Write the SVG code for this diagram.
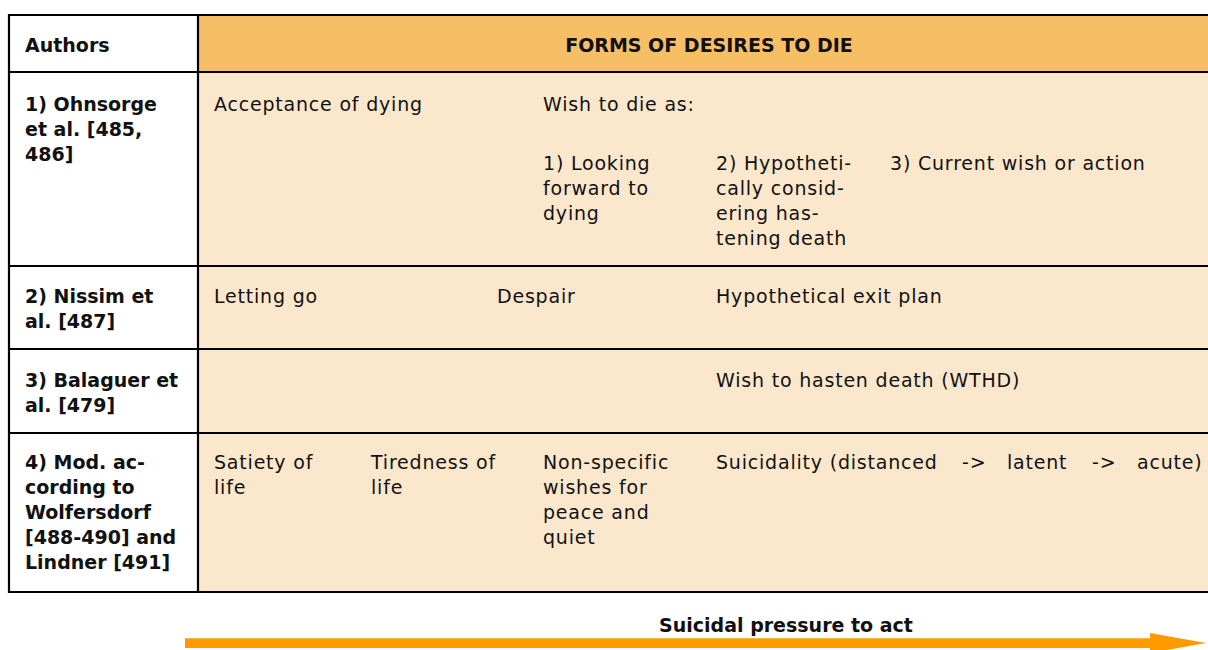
<svg xmlns="http://www.w3.org/2000/svg" width="1208" height="650" viewBox="0 0 1208 650">
  <style>
    .t { font-family: "DejaVu Sans", "Liberation Sans", sans-serif; font-size: 19px; fill: #111; letter-spacing: 0.8px; }
    .b { font-weight: bold; letter-spacing: 0px; }
    .grid { stroke: #000; stroke-width: 2.2; fill: none; }
  </style>
  <defs>
    <marker id="head" markerUnits="userSpaceOnUse" markerWidth="60" markerHeight="24" refX="0" refY="12" orient="auto">
      <path d="M0,2 L56,12 L0,22 Z" fill="#FF9A00"/>
    </marker>
  </defs>

  <rect width="1208" height="650" fill="#fff"/>

  <!-- cell backgrounds -->
  <rect x="198" y="15" width="1010" height="57" fill="#F6BF66"/>
  <rect x="198" y="72" width="1010" height="520" fill="#FBE8CC"/>

  <!-- table grid -->
  <g id="grid" class="grid">
    <line x1="8" y1="15" x2="1208" y2="15"/>
    <line x1="8" y1="72" x2="1208" y2="72"/>
    <line x1="8" y1="266" x2="1208" y2="266"/>
    <line x1="8" y1="349" x2="1208" y2="349"/>
    <line x1="8" y1="433" x2="1208" y2="433"/>
    <line x1="8" y1="592" x2="1208" y2="592"/>
    <line x1="9" y1="14" x2="9" y2="593"/>
    <line x1="198" y1="14" x2="198" y2="593"/>
  </g>

  <!-- header row -->
  <g id="header">
    <text class="t b" x="25" y="52">Authors</text>
    <text class="t b" x="709" y="52" text-anchor="middle">FORMS OF DESIRES TO DIE</text>
  </g>

  <!-- row 1: Ohnsorge -->
  <g id="row1">
    <text class="t b" x="25" y="111">1) Ohnsorge</text>
    <text class="t b" x="25" y="136">et al. [485,</text>
    <text class="t b" x="25" y="161">486]</text>
    <text class="t" x="214" y="111">Acceptance of dying</text>
    <text class="t" x="543" y="111">Wish to die as:</text>
    <text class="t" x="543" y="170">1) Looking</text>
    <text class="t" x="543" y="195">forward to</text>
    <text class="t" x="543" y="220">dying</text>
    <text class="t" x="716" y="170">2) Hypotheti-</text>
    <text class="t" x="716" y="195">cally consid-</text>
    <text class="t" x="716" y="220">ering has-</text>
    <text class="t" x="716" y="245">tening death</text>
    <text class="t" x="890" y="170">3) Current wish or action</text>
  </g>

  <!-- row 2: Nissim -->
  <g id="row2">
    <text class="t b" x="25" y="303">2) Nissim et</text>
    <text class="t b" x="25" y="328">al. [487]</text>
    <text class="t" x="214" y="303">Letting go</text>
    <text class="t" x="497" y="303">Despair</text>
    <text class="t" x="716" y="303">Hypothetical exit plan</text>
  </g>

  <!-- row 3: Balaguer -->
  <g id="row3">
    <text class="t b" x="25" y="387">3) Balaguer et</text>
    <text class="t b" x="25" y="412">al. [479]</text>
    <text class="t" x="716" y="387">Wish to hasten death (WTHD)</text>
  </g>

  <!-- row 4: Wolfersdorf / Lindner -->
  <g id="row4">
    <text class="t b" x="25" y="469">4) Mod. ac-</text>
    <text class="t b" x="25" y="494">cording to</text>
    <text class="t b" x="25" y="519">Wolfersdorf</text>
    <text class="t b" x="25" y="544">[488-490] and</text>
    <text class="t b" x="25" y="569">Lindner [491]</text>
    <text class="t" x="214" y="469">Satiety of</text>
    <text class="t" x="214" y="494">life</text>
    <text class="t" x="371" y="469">Tiredness of</text>
    <text class="t" x="371" y="494">life</text>
    <text class="t" x="543" y="469">Non-specific</text>
    <text class="t" x="543" y="494">wishes for</text>
    <text class="t" x="543" y="519">peace and</text>
    <text class="t" x="543" y="544">quiet</text>
    <text class="t" x="716" y="469">Suicidality (distanced</text>
    <text class="t" x="962" y="469">-&gt;</text>
    <text class="t" x="1007" y="469">latent</text>
    <text class="t" x="1092" y="469">-&gt;</text>
    <text class="t" x="1137" y="469">acute)</text>
  </g>

  <!-- pressure arrow -->
  <g id="connectors">
    <line x1="185" y1="643" x2="1150" y2="643" stroke="#FF9A00" stroke-width="10" marker-end="url(#head)"/>
    <line x1="185" y1="638.5" x2="1150" y2="638.5" stroke="#FBB850" stroke-width="1"/>
  </g>
  <g id="arrow-label">
    <text class="t b" x="786" y="632" text-anchor="middle">Suicidal pressure to act</text>
  </g>
</svg>
